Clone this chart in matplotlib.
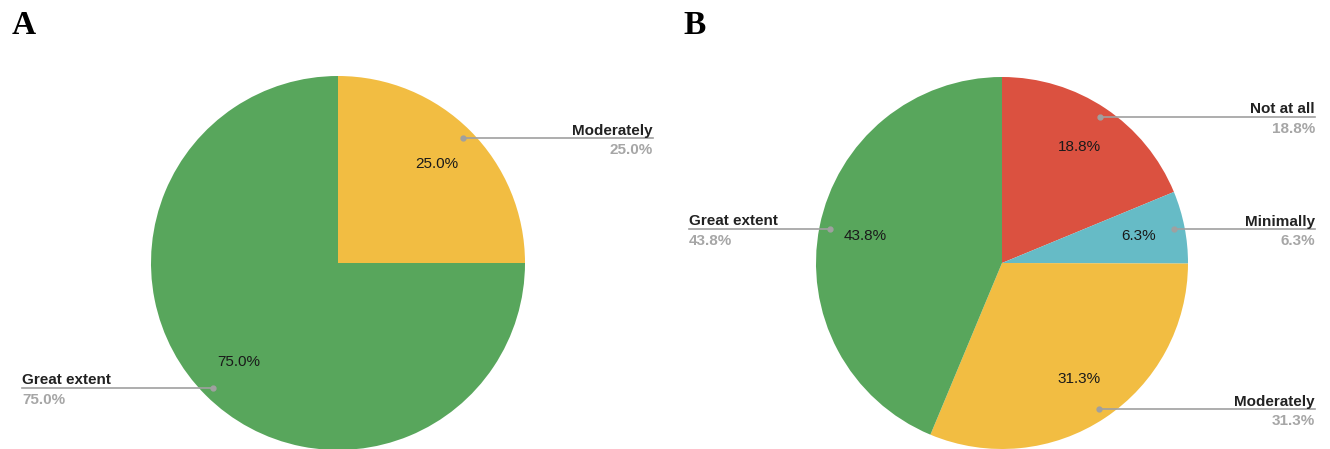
import numpy as np
import matplotlib.pyplot as plt

# survey answers, panel A and panel B
labels_a = ["Moderately", "Great extent"]
values_a = [25.0, 75.0]
labels_b = ["Not at all", "Minimally", "Moderately", "Great extent"]
values_b = [18.8, 6.3, 31.3, 43.8]

colors = {
    "Not at all": "#DB5140",
    "Minimally": "#66BBC6",
    "Moderately": "#F2BD42",
    "Great extent": "#58A65C",
}

W, H = 1330, 449
plt.rcParams['font.family'] = ['Liberation Sans', 'DejaVu Sans']

fig = plt.figure(figsize=(W / 100, H / 100), dpi=100)
ax = fig.add_axes([0, 0, 1, 1])


def draw_pie(ax, labels, values, cx, cy, r, x_left, x_right):
    wedges, _ = ax.pie(values, colors=[colors[l] for l in labels],
                       startangle=90, counterclock=False,
                       center=(cx, H - cy), radius=r,
                       wedgeprops=dict(linewidth=0))
    for w, lab, v in zip(wedges, labels, values):
        mid = np.deg2rad((w.theta1 + w.theta2) / 2)
        dx, dy = np.cos(mid), np.sin(mid)
        # value inside the slice
        ax.text(cx + 0.75 * r * dx, H - cy + 0.75 * r * dy, f"{v:.1f}%",
                ha='center', va='center', fontsize=11, color='#1a1a1a')
        # leader line out to the side label
        px, py = cx + 0.945 * r * dx, H - cy + 0.945 * r * dy
        ax.plot([px], [py], 'o', ms=3.5, color='#a0a0a0', zorder=5)
        if dx >= 0:
            ax.plot([px, x_right], [py, py], color='#a0a0a0', lw=1.2)
            tx, ha = x_right, 'right'
        else:
            ax.plot([x_left, px], [py, py], color='#a0a0a0', lw=1.2)
            tx, ha = x_left, 'left'
        ax.text(tx, py + 3.5, lab, ha=ha, va='baseline', fontsize=11,
                fontweight='bold', color='#222222')
        ax.text(tx, py - 16, f"{v:.1f}%", ha=ha, va='baseline', fontsize=11,
                fontweight='bold', color='#a6a6a6')


draw_pie(ax, labels_a, values_a, 338, 263, 187, 22, 653)
draw_pie(ax, labels_b, values_b, 1002, 263, 186, 689, 1315)

ax.text(12, H - 34, "A", fontsize=24, fontweight='bold',
        family=['Liberation Serif'], ha='left', va='baseline')
ax.text(683, H - 34, "B", fontsize=24, fontweight='bold',
        family=['Liberation Serif'], ha='left', va='baseline')

ax.set_xlim(0, W)
ax.set_ylim(0, H)
ax.set_aspect('auto')
ax.axis('off')

fig.savefig("out.png", dpi=100)
